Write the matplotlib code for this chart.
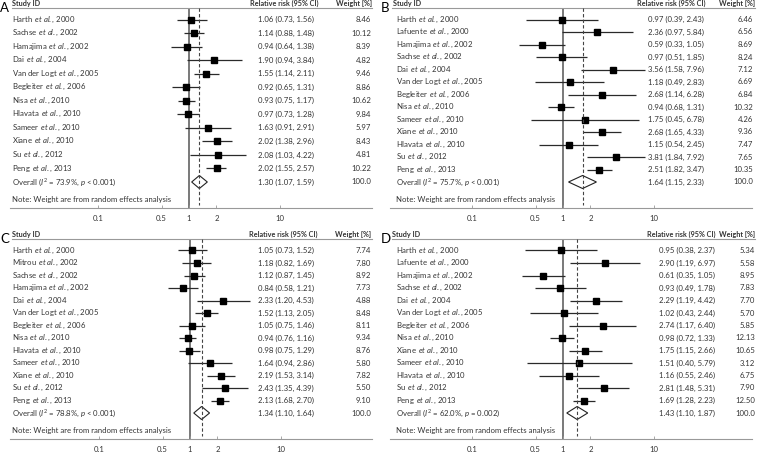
import numpy as np
import matplotlib.pyplot as plt

plt.rcParams['font.family'] = ['Lato', 'DejaVu Sans']
plt.rcParams['mathtext.fontset'] = 'custom'
plt.rcParams['mathtext.rm'] = 'Lato'
plt.rcParams['mathtext.it'] = 'Lato:italic'
plt.rcParams['mathtext.bf'] = 'Lato:bold'

W, H = 759, 453

#==================== DATOS ====================

# panel A
a_authors = ['Harth', 'Sachse', 'Hamajima', 'Dai', 'Van der Logt', 'Begleiter',
             'Nisa', 'Hlavata', 'Sameer', 'Xiane', 'Su', 'Peng']
a_years = [2000, 2002, 2002, 2004, 2005, 2006, 2010, 2010, 2010, 2010, 2012, 2013]
a_rr = [1.06, 1.14, 0.94, 1.90, 1.55, 0.92, 0.93, 0.97, 1.63, 2.02, 2.08, 2.02]
a_lo = [0.73, 0.88, 0.64, 0.94, 1.14, 0.65, 0.75, 0.73, 0.91, 1.38, 1.03, 1.55]
a_hi = [1.56, 1.48, 1.38, 3.84, 2.11, 1.31, 1.17, 1.28, 2.91, 2.96, 4.22, 2.57]
a_wt = [8.46, 10.12, 8.39, 4.82, 9.46, 8.86, 10.62, 9.84, 5.97, 8.43, 4.81, 10.22]
a_overall = [1.30, 1.07, 1.59]
a_het = ['73.9%', '< 0.001']

# panel B
b_authors = ['Harth', 'Lafuente', 'Hamajima', 'Sachse', 'Dai', 'Van der Logt',
             'Begleiter', 'Nisa', 'Sameer', 'Xiane', 'Hlavata', 'Su', 'Peng']
b_years = [2000, 2000, 2002, 2002, 2004, 2005, 2006, 2010, 2010, 2010, 2010, 2012, 2013]
b_rr = [0.97, 2.36, 0.59, 0.97, 3.56, 1.18, 2.68, 0.94, 1.75, 2.68, 1.15, 3.81, 2.51]
b_lo = [0.39, 0.97, 0.33, 0.51, 1.58, 0.49, 1.14, 0.68, 0.45, 1.65, 0.54, 1.84, 1.82]
b_hi = [2.43, 5.84, 1.05, 1.85, 7.96, 2.83, 6.28, 1.31, 6.78, 4.33, 2.45, 7.92, 3.47]
b_wt = [6.46, 6.56, 8.69, 8.24, 7.12, 6.69, 6.84, 10.32, 4.26, 9.36, 7.47, 7.65, 10.35]
b_overall = [1.64, 1.15, 2.33]
b_het = ['75.7%', '< 0.001']

# panel C
c_authors = ['Harth', 'Mitrou', 'Sachse', 'Hamajima', 'Dai', 'Van der Logt',
             'Begleiter', 'Nisa', 'Hlavata', 'Sameer', 'Xiane', 'Su', 'Peng']
c_years = [2000, 2002, 2002, 2002, 2004, 2005, 2006, 2010, 2010, 2010, 2010, 2012, 2013]
c_rr = [1.05, 1.18, 1.12, 0.84, 2.33, 1.52, 1.05, 0.94, 0.98, 1.64, 2.19, 2.43, 2.13]
c_lo = [0.73, 0.82, 0.87, 0.58, 1.20, 1.13, 0.75, 0.76, 0.75, 0.94, 1.53, 1.35, 1.68]
c_hi = [1.52, 1.69, 1.45, 1.21, 4.53, 2.05, 1.46, 1.16, 1.29, 2.86, 3.14, 4.39, 2.70]
c_wt = [7.74, 7.80, 8.92, 7.73, 4.88, 8.48, 8.11, 9.34, 8.76, 5.80, 7.82, 5.50, 9.10]
c_overall = [1.34, 1.10, 1.64]
c_het = ['78.8%', '< 0.001']

# panel D
d_authors = ['Harth', 'Lafuente', 'Hamajima', 'Sachse', 'Dai', 'Van der Logt',
             'Begleiter', 'Nisa', 'Xiane', 'Sameer', 'Hlavata', 'Su', 'Peng']
d_years = [2000, 2000, 2002, 2002, 2004, 2005, 2006, 2010, 2010, 2010, 2010, 2012, 2013]
d_rr = [0.95, 2.90, 0.61, 0.93, 2.29, 1.02, 2.74, 0.98, 1.75, 1.51, 1.16, 2.81, 1.69]
d_lo = [0.38, 1.19, 0.35, 0.49, 1.19, 0.43, 1.17, 0.72, 1.15, 0.40, 0.55, 1.48, 1.28]
d_hi = [2.37, 6.97, 1.05, 1.78, 4.42, 2.44, 6.40, 1.33, 2.66, 5.79, 2.46, 5.31, 2.23]
d_wt = [5.34, 5.58, 8.95, 7.83, 7.70, 5.70, 5.85, 12.13, 10.65, 3.12, 6.75, 7.90, 12.50]
d_overall = [1.43, 1.10, 1.87]
d_het = ['62.0%', '= 0.002']

ticks = [0.1, 0.5, 1, 2, 10]
tick_labels = ['0.1', '0.5', '1', '2', '10']

TXT = '#333333'
FS = 5.6
FS_HEAD = 5.2

fig = plt.figure(figsize=(W / 100, H / 100), dpi=100)


#==================== PANEL ====================

def panel(letter, box, cols, authors, years, rr, lo, hi, wt, overall, het):
    left, top, right, bottom = box
    ax = fig.add_axes([left / W, 1 - bottom / H, (right - left) / W, (bottom - top) / H])
    ax.set_xscale('log')
    one = cols['one']
    ax.set_xlim(10 ** ((left - one) / 91.0), 10 ** ((right - one) / 91.0))
    hgt = bottom - top
    ax.set_ylim(hgt, 0)
    ax.patch.set_alpha(0)

    def fx(px):
        return (px - left) / float(right - left)

    tr = ax.get_yaxis_transform()
    n = len(rr)
    ys = 19.5 + np.arange(n) * (182 - 19.5) / n
    y_ov = 182

    # lineas verticales
    ax.vlines(1, 8, hgt, color='#555555', lw=1.1, zorder=1)

    # intervalos y cuadrados
    ax.hlines(ys, lo, hi, color='#2a2a2a', lw=0.9, zorder=2)
    ax.plot(rr, ys, 's', ms=3.7, color='black', zorder=3)

    est, olo, ohi = overall
    ax.fill([olo, est, ohi, est], [y_ov, y_ov - 6.5, y_ov, y_ov + 6.5],
            facecolor='white', edgecolor='#222222', lw=0.8, zorder=3)
    ax.vlines(est, 8, hgt - 3, color='#444444', lw=0.8, linestyles=(0, (3, 2)), zorder=4)

    # cabecera
    ax.plot([fx(cols['hl'][0]), fx(cols['hl'][1])], [8, 8], transform=tr,
            color='#999999', lw=0.8, clip_on=False)
    ax.text(fx(cols['sid']), 3.5, 'Study ID', transform=tr, fontsize=FS_HEAD,
            fontweight='bold', color=TXT, va='center', ha='left')
    ax.text(fx(cols['rrh']), 3.5, 'Relative risk (95% CI)', transform=tr, fontsize=FS_HEAD,
            fontweight='bold', color=TXT, va='center', ha='left')
    ax.text(fx(cols['wth']), 3.5, 'Weight [%]', transform=tr, fontsize=FS_HEAD,
            fontweight='bold', color=TXT, va='center', ha='right')

    for i in range(n):
        lab = authors[i] + r' $\,\mathit{et\ al.}$, ' + str(years[i])
        ax.text(fx(cols['lab']), ys[i], lab, transform=tr, fontsize=FS,
                color=TXT, va='center', ha='left')
        ax.text(fx(cols['rrv']), ys[i], '%.2f (%.2f, %.2f)' % (rr[i], lo[i], hi[i]),
                transform=tr, fontsize=FS, color=TXT, va='center', ha='left')
        ax.text(fx(cols['wtv']), ys[i], '%.2f' % wt[i], transform=tr, fontsize=FS,
                color=TXT, va='center', ha='right')

    ov_lab = r'Overall ($I^2$ = ' + het[0] + r', $p$ ' + het[1] + ')'
    ax.text(fx(cols['lab']), y_ov, ov_lab, transform=tr, fontsize=FS,
            color=TXT, va='center', ha='left')
    ax.text(fx(cols['rrv']), y_ov, '%.2f (%.2f, %.2f)' % (est, olo, ohi),
            transform=tr, fontsize=FS, color=TXT, va='center', ha='left')
    ax.text(fx(cols['wtv']), y_ov, '100.0', transform=tr, fontsize=FS,
            color=TXT, va='center', ha='right')
    ax.text(fx(cols['lab']), 199.5, 'Note: Weight are from random effects analysis',
            transform=tr, fontsize=FS, color=TXT, va='center', ha='left')

    # eje
    for s in ['top', 'left', 'right']:
        ax.spines[s].set_visible(False)
    ax.spines['bottom'].set_color('#999999')
    ax.spines['bottom'].set_linewidth(0.8)
    ax.set_yticks([])
    ax.set_xticks(ticks)
    ax.set_xticklabels(tick_labels)
    ax.minorticks_off()
    ax.tick_params(axis='x', direction='in', length=2.5, width=0.6, color='#999999',
                   labelsize=FS, labelcolor=TXT, pad=5)

    fig.text(cols['let'] / W, 1 - (top + 8) / H, letter, fontsize=9.5,
             color='black', va='center', ha='left')
    return ax


cols_a = dict(one=189, lab=12, sid=12, rrh=250, rrv=258, wth=372, wtv=371, hl=(12, 372), let=0)
cols_b = dict(one=563, lab=396, sid=393, rrh=637, rrv=648, wth=755, wtv=753, hl=(392, 755), let=381)
cols_c = dict(one=190, lab=12, sid=12, rrh=249, rrv=258, wth=371, wtv=371, hl=(12, 372), let=0)
cols_d = dict(one=563, lab=396, sid=392, rrh=647, rrv=659, wth=755, wtv=755, hl=(392, 755), let=381)

panel('A', (10, 0, 372, 208), cols_a, a_authors, a_years, a_rr, a_lo, a_hi, a_wt, a_overall, a_het)
panel('B', (390, 0, 752, 208), cols_b, b_authors, b_years, b_rr, b_lo, b_hi, b_wt, b_overall, b_het)
panel('C', (10, 231, 372, 439), cols_c, c_authors, c_years, c_rr, c_lo, c_hi, c_wt, c_overall, c_het)
panel('D', (390, 231, 752, 439), cols_d, d_authors, d_years, d_rr, d_lo, d_hi, d_wt, d_overall, d_het)

fig.savefig('out.png', dpi=100)
